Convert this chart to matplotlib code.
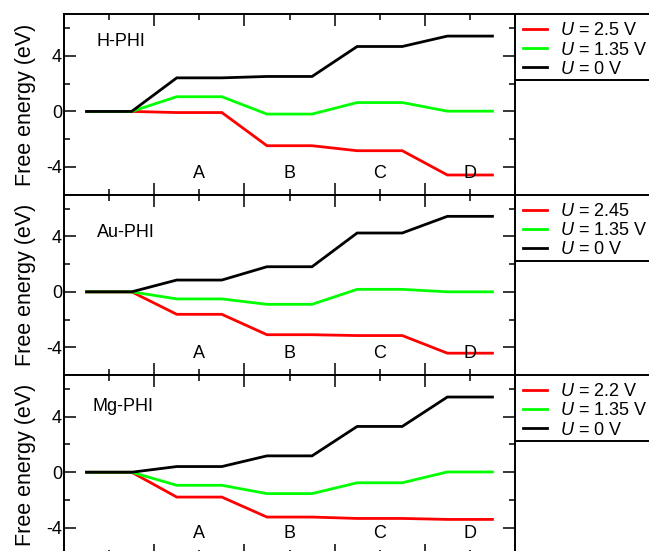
import matplotlib
matplotlib.use("Agg")
import matplotlib.pyplot as plt
from matplotlib.ticker import MultipleLocator, NullFormatter
import numpy as np

plt.rcParams['font.family'] = ['Liberation Sans', 'DejaVu Sans']
plt.rcParams['mathtext.fontset'] = 'custom'
plt.rcParams['mathtext.it'] = 'Liberation Sans:italic'
plt.rcParams['mathtext.rm'] = 'Liberation Sans'
plt.rcParams['axes.unicode_minus'] = False

# ---- data ----
steps = ["*", "A", "B", "C", "D"]
step_labels = ["A", "B", "C", "D"]
panels = ["H-PHI", "Au-PHI", "Mg-PHI"]

h_u0 = [0.0, 2.42, 2.52, 4.68, 5.43]
h_u135 = [0.0, 1.06, -0.19, 0.64, 0.02]
h_uhigh = [0.0, -0.08, -2.47, -2.83, -4.58]

au_u0 = [0.0, 0.85, 1.81, 4.24, 5.44]
au_u135 = [0.0, -0.51, -0.90, 0.18, 0.0]
au_uhigh = [0.0, -1.62, -3.09, -3.15, -4.42]

mg_u0 = [0.0, 0.41, 1.18, 3.30, 5.42]
mg_u135 = [0.0, -0.94, -1.54, -0.76, 0.02]
mg_uhigh = [0.0, -1.79, -3.23, -3.33, -3.40]

legend_high = ["$U$ = 2.5 V", "$U$ = 2.45", "$U$ = 2.2 V"]
legend_135 = "$U$ = 1.35 V"
legend_0 = "$U$ = 0 V"

label_pos = [(0.73, 5.05), (0.73, 4.25), (0.64, 4.74)]

data = [(h_uhigh, h_u135, h_u0), (au_uhigh, au_u135, au_u0), (mg_uhigh, mg_u135, mg_u0)]

W, H = 649, 551
fig = plt.figure(figsize=(W / 100, H / 100), dpi=100)

left = 64 / W
width = (515 - 64) / W
ph = 180.4
tops = [14.3, 194.7, 375.1]


def step_xy(levels):
    xs, ys = [], []
    for i, v in enumerate(levels):
        xs += [2 * i + 0.5, 2 * i + 1.5]
        ys += [v, v]
    return xs, ys


for k in range(3):
    bottom = 1 - (tops[k] + ph) / H
    ax = fig.add_axes([left, bottom, width, ph / H])
    uh, u135, u0 = data[k]
    for vals, col, lab in [(uh, '#ff0000', legend_high[k]),
                           (u135, '#00ff00', legend_135),
                           (u0, '#000000', legend_0)]:
        xs, ys = step_xy(vals)
        ax.plot(xs, ys, color=col, lw=2.0, label=lab, solid_joinstyle='miter')
    ax.set_xlim(0, 10)
    ax.set_ylim(-6, 7)
    ax.xaxis.set_major_locator(MultipleLocator(2))
    ax.xaxis.set_minor_locator(MultipleLocator(1))
    ax.xaxis.set_major_formatter(NullFormatter())
    ax.yaxis.set_major_locator(MultipleLocator(4))
    ax.yaxis.set_minor_locator(MultipleLocator(2))
    ax.tick_params(which='both', direction='in', top=True, right=True,
                   width=1.1, labelsize=13, pad=1.5)
    ax.tick_params(which='major', length=8.6)
    ax.tick_params(which='minor', length=4.3)
    for s in ax.spines.values():
        s.set_linewidth(1.4)
    ax.set_ylabel("Free energy (eV)", fontsize=15.5)
    ax.yaxis.set_label_coords(-0.062, 0.5)
    ax.text(label_pos[k][0], label_pos[k][1], panels[k], fontsize=13,
            ha='left', va='center')
    for j, s in enumerate(step_labels):
        ax.text(2 * (j + 1) + 1, -4.45, s, fontsize=13, ha='center', va='center')
    leg = ax.legend(loc='upper left', bbox_to_anchor=(1.0, 1.0), frameon=False,
                    fontsize=13, handlelength=1.3, handletextpad=0.75,
                    labelspacing=0.12, borderaxespad=0.2, borderpad=0.25)
    for ln in leg.get_lines():
        ln.set_linewidth(2.0)
    xr = (W - 64) / (515 - 64)
    ax.plot([1, xr], [1, 1], transform=ax.transAxes, color='k', lw=1.4,
            clip_on=False)
    yb = 1 - 66 / ph
    ax.plot([1, xr], [yb, yb], transform=ax.transAxes, color='k', lw=1.4,
            clip_on=False)

fig.savefig("out.png", dpi=100)
